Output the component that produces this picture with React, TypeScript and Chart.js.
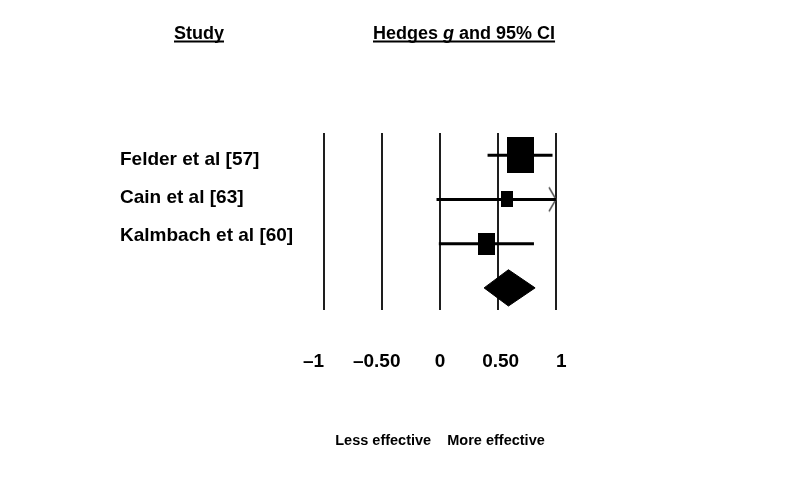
import React, { useEffect, useRef } from 'react';
import { Chart, registerables } from 'chart.js';

Chart.register(...registerables);

// ---- data ----
const studies = ['Felder et al [57]', 'Cain et al [63]', 'Kalmbach et al [60]'];
const effect = [0.69, 0.58, 0.4];
const lower = [0.41, -0.03, -0.01];
const upper = [0.97, 1.1, 0.81];
const weights = [64, 12, 24];
const summaryEffect = 0.59;
const summaryLower = 0.38;
const summaryUpper = 0.82;
const xTickValues = [-1, -0.5, 0, 0.5, 1];
const xTickLabels = ['–1    ', '–0.50  ', '0', ' 0.50', '  1'];
const xAxisTitle = 'Less effective    More effective';
const studyHeader = 'Study';
const effectHeaderParts = ['Hedges ', 'g', ' and 95% CI'];

const X_MIN = -1;
const X_MAX = 1;
const FAMILY = "'Liberation Sans', Arial, Helvetica, sans-serif";

function makeBox(weight: number): HTMLCanvasElement {
  const h = Math.round(4.5 * Math.sqrt(weight));
  const w = Math.round(h * 0.75);
  const c = document.createElement('canvas');
  c.width = w;
  c.height = h;
  const g = c.getContext('2d')!;
  g.fillStyle = '#000';
  g.fillRect(0, 0, w, h);
  return c;
}

function makeArrow(): HTMLCanvasElement {
  const c = document.createElement('canvas');
  c.width = 16;
  c.height = 28;
  const g = c.getContext('2d')!;
  g.strokeStyle = '#555';
  g.lineWidth = 1.5;
  g.beginPath();
  g.moveTo(1, 2);
  g.lineTo(8, 14);
  g.lineTo(1, 26);
  g.stroke();
  return c;
}

const headerPlugin = {
  id: 'forestHeaders',
  afterDraw(chart: any) {
    const ctx = chart.ctx as CanvasRenderingContext2D;
    ctx.save();
    ctx.fillStyle = '#000';
    ctx.textBaseline = 'alphabetic';
    ctx.textAlign = 'left';
    const normal = `bold 18px ${FAMILY}`;
    const italic = `italic bold 18px ${FAMILY}`;
    const y = 38.5;
    ctx.font = normal;
    const sx = 174;
    ctx.fillText(studyHeader, sx, y);
    ctx.fillRect(sx, y + 2, ctx.measureText(studyHeader).width, 2);
    let x = 373;
    effectHeaderParts.forEach((t, i) => {
      ctx.font = i === 1 ? italic : normal;
      ctx.fillText(t, x, y);
      x += ctx.measureText(t).width;
    });
    ctx.fillRect(373, y + 2, x - 373, 2);
    ctx.restore();
  },
};

export default function App() {
  const ref = useRef<HTMLCanvasElement>(null);

  useEffect(() => {
    if (!ref.current) return;
    const boxes = weights.map(makeBox);
    const arrow = makeArrow();
    const sumRow = studies.length;
    const halfH = 0.41;

    const ciSets = studies.map((_, i) => ({
      label: 'ci' + i,
      showLine: true,
      data: [
        { x: lower[i], y: i },
        { x: Math.min(upper[i], X_MAX), y: i },
      ],
      borderColor: '#000',
      borderWidth: 3,
      pointRadius: 0,
      clip: false,
    }));

    const chart = new Chart(ref.current, {
      type: 'scatter',
      data: {
        datasets: [
          ...ciSets,
          {
            label: 'effects',
            data: effect.map((e, i) => ({ x: e, y: i })),
            pointStyle: (c: any) => boxes[c.dataIndex],
            pointRadius: 1,
            clip: false,
          } as any,
          {
            label: 'arrows',
            data: upper
              .map((u, i) => (u > X_MAX ? { x: X_MAX, y: i } : null))
              .filter((p) => p !== null),
            pointStyle: arrow,
            pointRadius: 1,
            clip: false,
          } as any,
          {
            label: 'sumTop',
            showLine: true,
            data: [
              { x: summaryLower, y: sumRow },
              { x: summaryEffect, y: sumRow - halfH },
              { x: summaryUpper, y: sumRow },
            ],
            borderColor: '#000',
            borderWidth: 1,
            backgroundColor: '#000',
            pointRadius: 0,
            fill: '+1',
            tension: 0,
          } as any,
          {
            label: 'sumBottom',
            showLine: true,
            data: [
              { x: summaryLower, y: sumRow },
              { x: summaryEffect, y: sumRow + halfH },
              { x: summaryUpper, y: sumRow },
            ],
            borderColor: '#000',
            borderWidth: 1,
            backgroundColor: '#000',
            pointRadius: 0,
            fill: false,
            tension: 0,
          } as any,
        ],
      },
      options: {
        responsive: false,
        animation: false,
        layout: { padding: { left: 120, right: 244, top: 133, bottom: 0 } },
        plugins: {
          legend: { display: false },
          tooltip: { enabled: false },
          title: { display: false },
        },
        scales: {
          x: {
            type: 'linear',
            min: X_MIN,
            max: X_MAX,
            afterBuildTicks: (s: any) => {
              s.ticks = xTickValues.map((v) => ({ value: v }));
            },
            afterFit: (s: any) => {
              s.height = 173;
            },
            grid: { color: '#1e1e1e', lineWidth: 2, drawTicks: false },
            border: { display: false },
            ticks: {
              padding: 40,
              color: '#000',
              font: { family: FAMILY, size: 19, weight: 'bold' },
              maxRotation: 0,
              autoSkip: false,
              callback: (v: any) => {
                const idx = xTickValues.indexOf(Number(v));
                return idx >= 0 ? xTickLabels[idx] : '';
              },
            },
            title: {
              display: true,
              text: xAxisTitle,
              color: '#000',
              font: { family: FAMILY, size: 14.5, weight: 'bold' },
              padding: { top: 0, bottom: 33 },
            },
          },
          y: {
            type: 'linear',
            display: false,
            min: -0.5,
            max: studies.length + 0.5,
            reverse: true,
          },
          yLabels: {
            type: 'linear',
            position: 'left',
            min: -0.71,
            max: 3.95,
            reverse: true,
            afterBuildTicks: (s: any) => {
              s.ticks = studies.map((_, i) => ({ value: i }));
            },
            afterFit: (s: any) => {
              s.width = 204;
            },
            grid: { display: false },
            border: { display: false },
            ticks: {
              crossAlign: 'far',
              color: '#000',
              font: { family: FAMILY, size: 19, weight: 'bold' },
              callback: (v: any) => studies[Number(v)] ?? '',
            },
          },
        },
      } as any,
      plugins: [headerPlugin],
    });
    return () => chart.destroy();
  }, []);

  return (
    <div style={{ position: 'absolute', left: 0, top: 0, width: 800, height: 483, background: '#fff' }}>
      <canvas ref={ref} width={800} height={483} style={{ display: 'block' }} />
    </div>
  );
}
